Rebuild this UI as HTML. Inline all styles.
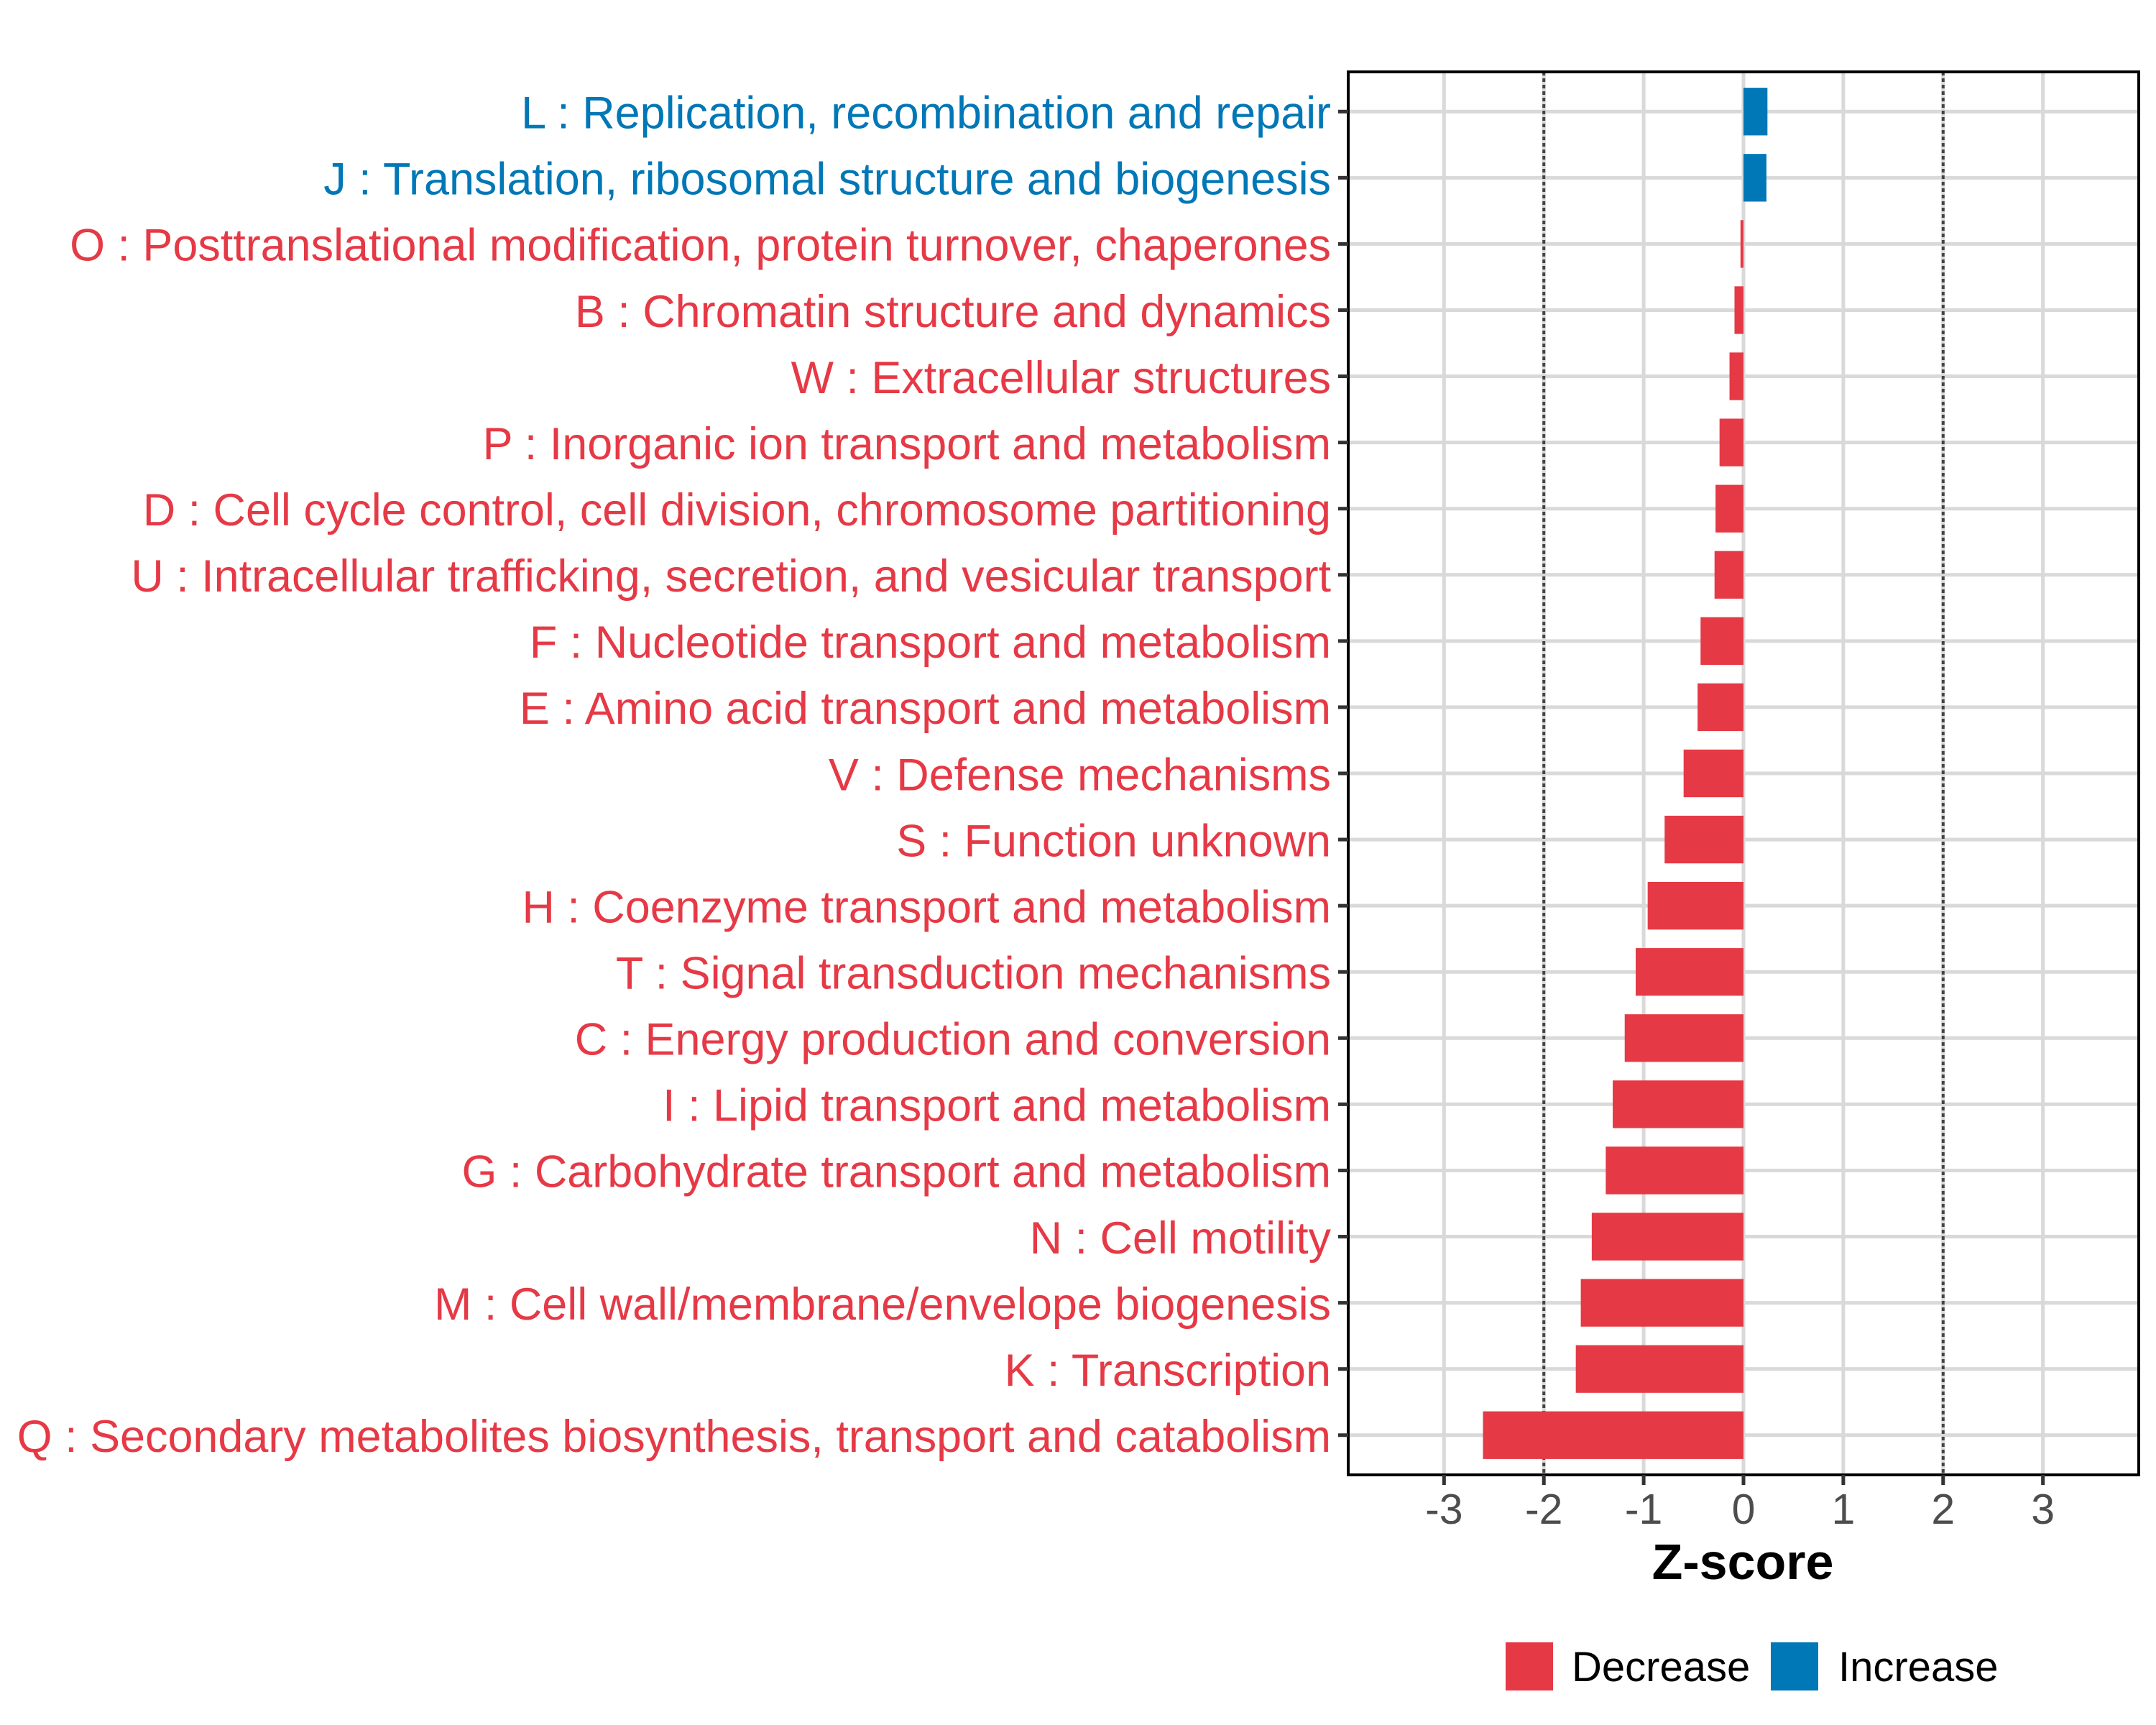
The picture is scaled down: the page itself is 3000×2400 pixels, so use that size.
<!DOCTYPE html>
<html><head><meta charset="utf-8">
<style>
html,body{margin:0;padding:0;background:#fff;}
svg{display:block;font-family:"Liberation Sans",Arial,sans-serif;}
</style></head>
<body>
<svg id="chart" width="3000" height="2400" viewBox="0 0 3000 2400" xmlns="http://www.w3.org/2000/svg">
<rect x="0" y="0" width="3000" height="2400" fill="#fff"/>
<g id="grid"></g>
<g id="bars"></g>
<g id="ylabels"></g>
<g id="xaxis"></g>
<text x="2425" y="2197" text-anchor="middle" font-size="70" font-weight="bold" fill="#000">Z-score</text>
<g>
<rect x="2095" y="2285" width="66" height="67" fill="#E63946"/>
<text x="2187" y="2339" font-size="58" fill="#000">Decrease</text>
<rect x="2464" y="2285" width="66" height="67" fill="#0077B6"/>
<text x="2558" y="2339" font-size="58" fill="#000">Increase</text>
</g>
</svg>
<script>
const categories = [
"L : Replication, recombination and repair",
"J : Translation, ribosomal structure and biogenesis",
"O : Posttranslational modification, protein turnover, chaperones",
"B : Chromatin structure and dynamics",
"W : Extracellular structures",
"P : Inorganic ion transport and metabolism",
"D : Cell cycle control, cell division, chromosome partitioning",
"U : Intracellular trafficking, secretion, and vesicular transport",
"F : Nucleotide transport and metabolism",
"E : Amino acid transport and metabolism",
"V : Defense mechanisms",
"S : Function unknown",
"H : Coenzyme transport and metabolism",
"T : Signal transduction mechanisms",
"C : Energy production and conversion",
"I : Lipid transport and metabolism",
"G : Carbohydrate transport and metabolism",
"N : Cell motility",
"M : Cell wall/membrane/envelope biogenesis",
"K : Transcription",
"Q : Secondary metabolites biosynthesis, transport and catabolism"
];
const zscores = [0.24,0.23,-0.03,-0.09,-0.14,-0.24,-0.28,-0.29,-0.43,-0.46,-0.60,-0.79,-0.96,-1.08,-1.19,-1.31,-1.38,-1.52,-1.63,-1.68,-2.61];
const xTicks = [-3,-2,-1,0,1,2,3];
const xTickLabels = ["-3","-2","-1","0","1","2","3"];
const refLines = [-2,2];

const NS="http://www.w3.org/2000/svg";
const PL=1876, PR=2976, PT=100, PB=2052;
const XMIN=-3.96, XMAX=3.96;
function xs(v){return PL+(v-XMIN)/(XMAX-XMIN)*(PR-PL);}
const n=categories.length;
const step=(PB-PT)/(n+0.2);
function ys(i){return PT+step*(0.6+i);}
function mk(tag,attrs,parent){const e=document.createElementNS(NS,tag);for(const k in attrs)e.setAttribute(k,attrs[k]);parent.appendChild(e);return e;}

const grid=document.getElementById('grid');
xTicks.forEach((t,i)=>{
  const l=mk('line',{x1:xs(t),x2:xs(t),y1:PT,y2:PB,stroke:'#d9d9d9','stroke-width':5},grid);
  
  
});
categories.forEach((c,i)=>{
  const l=mk('line',{x1:PL,x2:PR,y1:ys(i),y2:ys(i),stroke:'#d9d9d9','stroke-width':5},grid);
  
  
});
refLines.forEach(r=>{
  const l=mk('line',{x1:xs(r),x2:xs(r),y1:PT,y2:PB,stroke:'#444','stroke-width':4,'stroke-dasharray':'5,4'},grid);
  
  
});

const bars=document.getElementById('bars');
const bh=step*0.72;
zscores.forEach((v,i)=>{
  const x0=xs(Math.min(0,v)), x1=xs(Math.max(0,v));
  const r=mk('rect',{x:x0,y:ys(i)-bh/2,width:Math.max(x1-x0,1),height:bh,fill:v>=0?'#0077B6':'#E63946'},bars);
  
  
});
mk('rect',{x:PL,y:PT,width:PR-PL,height:PB-PT,fill:'none',stroke:'#000','stroke-width':4},bars);

const yl=document.getElementById('ylabels');
const labels=[];
categories.forEach((c,i)=>{
  const tk=mk('line',{x1:PL-14,x2:PL,y1:ys(i),y2:ys(i),stroke:'#333','stroke-width':5},yl);
  
  
  const t=mk('text',{x:1852,y:ys(i)+19,'text-anchor':'end','font-size':55,fill:zscores[i]>=0?'#0077B6':'#E63946'},yl);
  t.textContent=c;
  
  
  labels.push(t);
});
let maxW=0;labels.forEach(t=>{maxW=Math.max(maxW,t.getComputedTextLength());});
if(maxW>0){const fs=55*1829/maxW;labels.forEach(t=>{t.setAttribute('font-size',fs.toFixed(1));t.setAttribute('y',(parseFloat(t.getAttribute('y'))-19+fs*0.37).toFixed(1));});}

const xa=document.getElementById('xaxis');
xTicks.forEach((t,i)=>{
  const tk=mk('line',{x1:xs(t),x2:xs(t),y1:PB,y2:PB+14,stroke:'#333','stroke-width':5},xa);
  
  
  const tx=mk('text',{x:xs(t),y:2120,'text-anchor':'middle','font-size':59,fill:'#4d4d4d'},xa);
  tx.textContent=xTickLabels[i];
  
  
});
</script>
</body></html>
